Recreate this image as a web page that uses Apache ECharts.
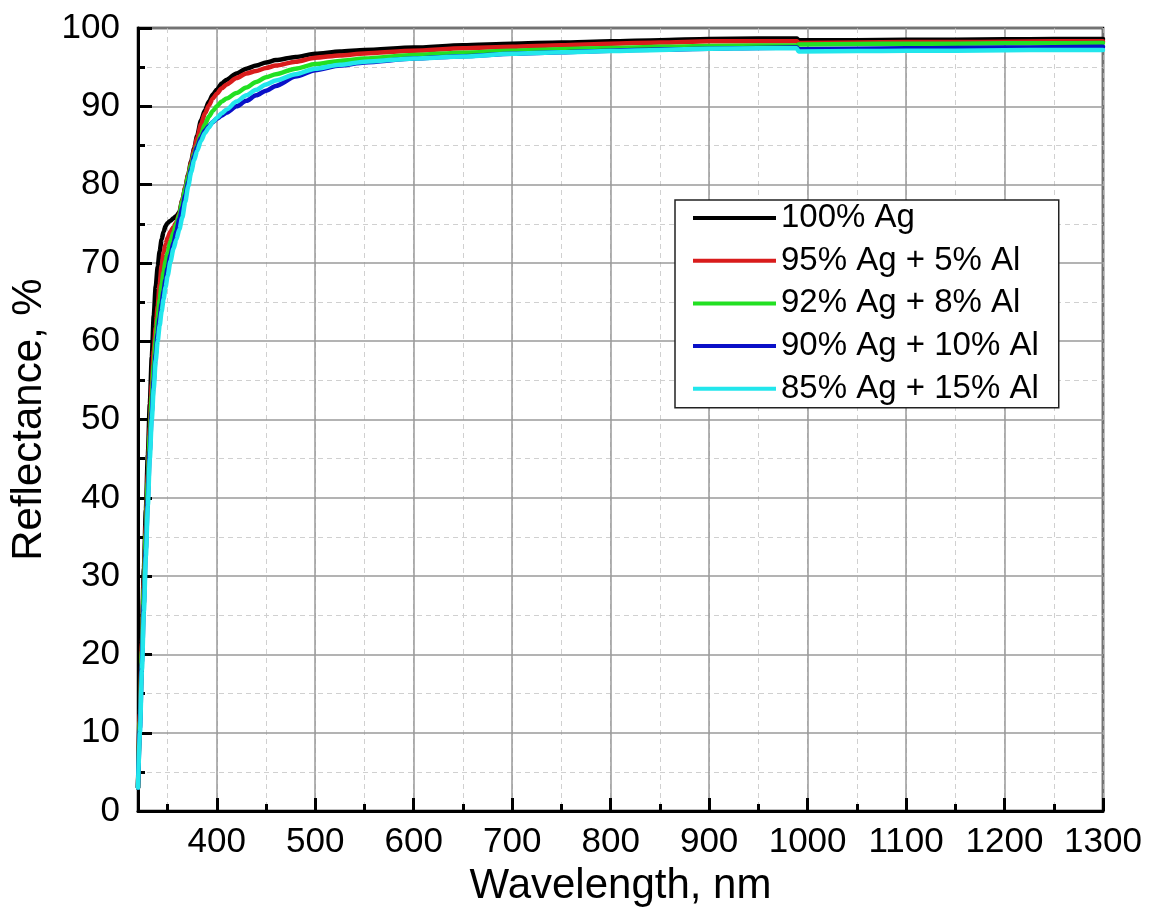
<!DOCTYPE html>
<html>
<head>
<meta charset="utf-8">
<script src="https://cdn.jsdelivr.net/npm/echarts@6/dist/echarts.min.js"></script>
<style>
html,body{margin:0;padding:0;background:#fff;}
#chart{width:1162px;height:912px;}
</style>
</head>
<body>
<div id="chart"></div>
<script>
// ---- data ----
const seriesNames = ['100% Ag', '95% Ag + 5% Al', '92% Ag + 8% Al', '90% Ag + 10% Al', '85% Ag + 15% Al'];
const wavelength = [320,322,324,326,328,330,332,334,336,338,340,342,344,346,348,350,353,356,359,362,365,368,371,374,377,380,384,388,392,396,400,405,410,420,430,440,450,460,480,500,525,550,600,650,700,750,800,850,900,950,989,991,1050,1100,1150,1200,1250,1300];
const ag100 = [3,14,23,31,38.5,45.5,52,58,63.3,67,69.5,71.5,73,74,74.7,75.1,75.4,75.7,76,76.5,78,79.6,81.3,83,84.6,86.2,88.2,89.5,90.6,91.5,92.1,92.9,93.4,94.2,94.8,95.2,95.6,95.9,96.3,96.7,97.0,97.2,97.5,97.8,98.0,98.15,98.3,98.45,98.6,98.65,98.65,98.45,98.45,98.5,98.5,98.55,98.6,98.6];
const ag95 = [3,12.5,21.5,29.5,36.5,43,49,54.5,58.8,61.8,64.5,67.3,69.7,71.3,72.4,73.2,74,74.6,75.2,76.3,78,79.6,81.2,82.8,84.4,85.9,87.7,89.1,90.1,91.0,91.6,92.3,92.8,93.6,94.2,94.5,94.9,95.2,95.7,96.2,96.5,96.75,97.1,97.4,97.6,97.8,98.0,98.15,98.3,98.3,98.3,98.1,98.15,98.2,98.2,98.25,98.3,98.3];
const ag92 = [3,11.5,20.5,28.5,35.5,42,48,53,57,60.3,63,65.3,67.2,68.8,70.2,71.3,72.7,73.9,75,76.2,77.8,79.4,81,82.5,83.9,85.0,86.4,87.7,88.7,89.4,90.0,90.6,91.0,91.7,92.4,93.1,93.7,94.1,94.8,95.4,95.8,96.1,96.55,96.85,97.1,97.3,97.45,97.6,97.7,97.75,97.75,97.9,97.95,98.0,98.0,98.05,98.05,98.1];
const ag90 = [3,10.5,19,26.5,33.5,40,46,51,55,58.3,61,63,64.8,66.4,67.9,69.3,71,72.5,74,75.6,77,78.6,80.3,82,83.6,84.8,86,86.9,87.5,88.0,88.4,88.8,89.2,90.0,90.7,91.4,92.0,92.6,93.8,94.6,95.2,95.6,96.1,96.4,96.7,96.9,97.1,97.25,97.35,97.45,97.5,97.3,97.35,97.4,97.45,97.5,97.55,97.6];
const ag85 = [3,10,18,25.5,32.5,39,45,50,54,57.5,60,62,63.8,65.4,66.9,68.3,70.2,71.8,73,74.3,75.8,77.8,79.8,81.6,83.1,84.3,85.6,86.6,87.3,88.0,88.5,89.1,89.6,90.6,91.4,92.1,92.8,93.3,94.1,94.8,95.3,95.7,96.1,96.35,96.7,96.9,97.05,97.2,97.35,97.4,97.4,97.0,97.05,97.1,97.1,97.15,97.2,97.2];
const seriesValues = [ag100, ag95, ag92, ag90, ag85];
const seriesColors = ['#000000', '#d91c1c', '#22e022', '#0a10c8', '#22e6ec'];
const xRange = [320, 1300];
const yRange = [0, 100];

const FONT = 'Liberation Sans, Arial, sans-serif';
const chart = echarts.init(document.getElementById('chart'), null, {renderer: 'canvas'});

const series = seriesNames.map((name, k) => ({
  name: name,
  type: 'line',
  xAxisIndex: 0,
  yAxisIndex: 0,
  showSymbol: false,
  symbol: 'none',
  smooth: 0.25,
  smoothMonotone: 'x',
  lineStyle: {width: 4.5, color: seriesColors[k], join: 'round', cap: 'round'},
  itemStyle: {color: seriesColors[k]},
  emphasis: {disabled: true},
  data: wavelength.map((w, i) => [w, seriesValues[k][i]])
}));

chart.setOption({
  animation: false,
  backgroundColor: '#ffffff',
  grid: {
    left: 138, right: 59, top: 28, bottom: 99,
    show: true, borderColor: '#000', borderWidth: 2.5, backgroundColor: 'transparent'
  },
  legend: {
    orient: 'vertical',
    left: 675, top: 200,
    backgroundColor: '#fff',
    borderColor: '#222', borderWidth: 1.5,
    padding: [0, 20, 1, 18],
    itemWidth: 83, itemHeight: 4, itemGap: 6.7,
    icon: 'rect',
    textStyle: {fontFamily: FONT, fontSize: 33, color: '#000', lineHeight: 36},
    data: seriesNames
  },
  xAxis: [
    {
      type: 'value', min: xRange[0], max: xRange[1], splitNumber: 10,
      name: 'Wavelength, nm', nameLocation: 'middle', nameGap: 50,
      nameTextStyle: {fontFamily: FONT, fontSize: 42, color: '#000'},
      axisLine: {show: true, lineStyle: {color: '#000', width: 3}},
      axisTick: {show: true, inside: true, length: 13, lineStyle: {color: '#000', width: 3}},
      axisLabel: {show: true, showMinLabel: false, margin: 14, fontFamily: FONT, fontSize: 35, color: '#000',
        formatter: v => String(v)},
      splitLine: {show: true, lineStyle: {color: '#9a9a9a', width: 1.5, type: 'solid'}},
      z: 3
    },
    {
      type: 'value', min: xRange[0], max: xRange[1], splitNumber: 20, position: 'bottom',
      axisLine: {show: false},
      axisTick: {show: true, inside: true, length: 7, lineStyle: {color: '#000', width: 3}},
      axisLabel: {show: false},
      splitLine: {show: true, lineStyle: {color: '#d0d0d0', width: 1, type: [5, 4]}},
      z: 2
    }
  ],
  yAxis: {
    type: 'value', min: yRange[0], max: yRange[1], interval: 10,
    name: 'Reflectance, %', nameLocation: 'middle', nameGap: 84,
    nameTextStyle: {fontFamily: FONT, fontSize: 42, color: '#000'},
    axisLine: {show: true, lineStyle: {color: '#000', width: 3}},
    axisTick: {show: true, inside: true, length: 14, lineStyle: {color: '#000', width: 3}},
    minorTick: {show: true, splitNumber: 2, length: 7, lineStyle: {color: '#000', width: 3}},
    axisLabel: {margin: 18, fontFamily: FONT, fontSize: 35, color: '#000'},
    splitLine: {show: true, lineStyle: {color: '#9a9a9a', width: 1.5}},
    minorSplitLine: {show: true, lineStyle: {color: '#d0d0d0', width: 1, type: [5, 4]}},
    z: 3
  },
  series: series
});
</script>
</body>
</html>
